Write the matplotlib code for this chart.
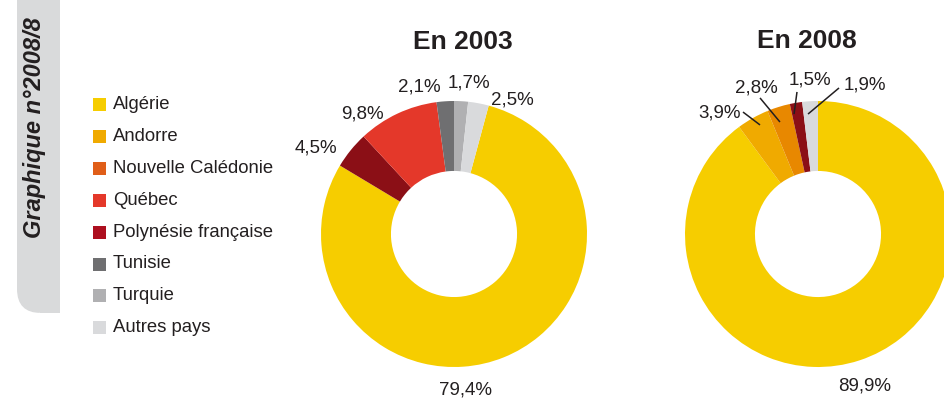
import matplotlib
matplotlib.use("Agg")
import matplotlib.pyplot as plt
from matplotlib.patches import Rectangle, FancyBboxPatch

plt.rcParams['font.family'] = ['Liberation Sans', 'DejaVu Sans']

# ---- data ----
categories = ["Algérie", "Andorre", "Nouvelle Calédonie", "Québec",
              "Polynésie française", "Tunisie", "Turquie", "Autres pays"]
values_2003 = [79.4, 0.0, 0.0, 9.8, 4.5, 2.1, 1.7, 2.5]
values_2008 = [89.9, 3.9, 2.8, 0.0, 1.5, 0.0, 0.0, 1.9]
titles = ["En 2003", "En 2008"]
side_label = "Graphique n°2008/8"

# order of the slices around each ring (clockwise)
pie_order = ["Algérie", "Andorre", "Nouvelle Calédonie", "Polynésie française",
             "Québec", "Tunisie", "Turquie", "Autres pays"]

legend_colors = ["#f6cd00", "#f0aa00", "#e05e18", "#e4382a",
                 "#ad0f1f", "#6f6f71", "#b0b0b2", "#d9dadc"]
pie_colors = {"Algérie": "#f6cd00", "Andorre": "#f0aa00",
              "Nouvelle Calédonie": "#e88800", "Québec": "#e4382a",
              "Polynésie française": "#8b0f16", "Tunisie": "#6f6f71",
              "Turquie": "#b0b0b2", "Autres pays": "#d9dadc"}

TXT = "#231f20"
W, H = 945, 401
fig = plt.figure(figsize=(W / 100, H / 100), dpi=100)

# ---- overlay axes in pixel coords for legend / side tab ----
ov = fig.add_axes([0, 0, 1, 1])
ov.set_xlim(0, W)
ov.set_ylim(H, 0)
ov.axis("off")

# side tab with rounded bottom-left corner
tab = FancyBboxPatch((17, -40), 43, 353, boxstyle="round,pad=0,rounding_size=24",
                     fc="#d9dadb", ec="none")
ov.add_patch(tab)
ov.add_patch(Rectangle((40, -40), 20, 353, fc="#d9dadb", ec="none"))
ov.text(35, 128, side_label, rotation=90, ha="center", va="center",
        fontsize=17, fontweight="bold", fontstyle="italic", color=TXT)

# legend
for i, (cat, col) in enumerate(zip(categories, legend_colors)):
    yc = 104.5 + i * 31.9
    ov.add_patch(Rectangle((93, yc - 6.5), 13, 13, fc=col, ec="none"))
    ov.text(113, yc, cat, ha="left", va="center", fontsize=13.3, color=TXT)

# ---- pies ----
R = 133.0
span = 1.5


def make_pie_axes(cx, cy):
    half = span * R
    left = (cx - half) / W
    bottom = (H - (cy + half)) / H
    ax = fig.add_axes([left, bottom, 2 * half / W, 2 * half / H])
    ax.set_xlim(-span, span)
    ax.set_ylim(-span, span)
    ax.set_aspect("equal")
    ax.axis("off")
    return ax


# 2003
ax1 = make_pie_axes(454, 234)
d03 = dict(zip(categories, values_2003))
v03 = [d03[c] for c in pie_order]
c03 = [pie_colors[c] for c in pie_order]
start03 = 90 - 3.6 * (d03["Turquie"] + d03["Autres pays"])
ax1.pie(v03, colors=c03, startangle=start03, counterclock=False, radius=1.0,
        wedgeprops=dict(width=0.526, edgecolor="none", linewidth=0))
ax1.set_xlim(-span, span)
ax1.set_ylim(-span, span)

lab03 = {"Algérie": (0.09, -1.17), "Polynésie française": (-1.04, 0.65),
         "Québec": (-0.69, 0.90), "Tunisie": (-0.26, 1.105),
         "Turquie": (0.11, 1.135), "Autres pays": (0.44, 1.01)}
for cat, (x, y) in lab03.items():
    ax1.text(x, y, f"{d03[cat]:.1f}%".replace(".", ","), ha="center", va="center",
             fontsize=13.5, color=TXT, clip_on=False)

# 2008
ax2 = make_pie_axes(818, 234)
d08 = dict(zip(categories, values_2008))
v08 = [d08[c] for c in pie_order]
c08 = [pie_colors[c] for c in pie_order]
ax2.pie(v08, colors=c08, startangle=90, counterclock=False, radius=1.0,
        wedgeprops=dict(width=0.526, edgecolor="none", linewidth=0))
ax2.set_xlim(-span, span)
ax2.set_ylim(-span, span)

lab08 = {"Algérie": ((0.35, -1.14), None),
         "Andorre": ((-0.74, 0.91), ((-0.564, 0.917), (-0.436, 0.820))),
         "Nouvelle Calédonie": ((-0.46, 1.10), ((-0.436, 1.023), (-0.286, 0.842))),
         "Polynésie française": ((-0.06, 1.16), ((-0.158, 1.068), (-0.180, 0.902))),
         "Autres pays": ((0.35, 1.12), ((0.158, 1.098), (-0.075, 0.902)))}
for cat, ((x, y), line) in lab08.items():
    ax2.text(x, y, f"{d08[cat]:.1f}%".replace(".", ","), ha="center", va="center",
             fontsize=13.5, color=TXT, clip_on=False)
    if line is not None:
        (x0, y0), (x1, y1) = line
        ax2.plot([x0, x1], [y0, y1], color=TXT, lw=1.1, clip_on=False,
                 solid_capstyle="butt")

# titles
fig.text(463 / W, 1 - 42 / H, titles[0], ha="center", va="center",
         fontsize=19, fontweight="bold", color=TXT)
fig.text(807 / W, 1 - 41 / H, titles[1], ha="center", va="center",
         fontsize=19, fontweight="bold", color=TXT)

fig.savefig("out.png", dpi=100)
